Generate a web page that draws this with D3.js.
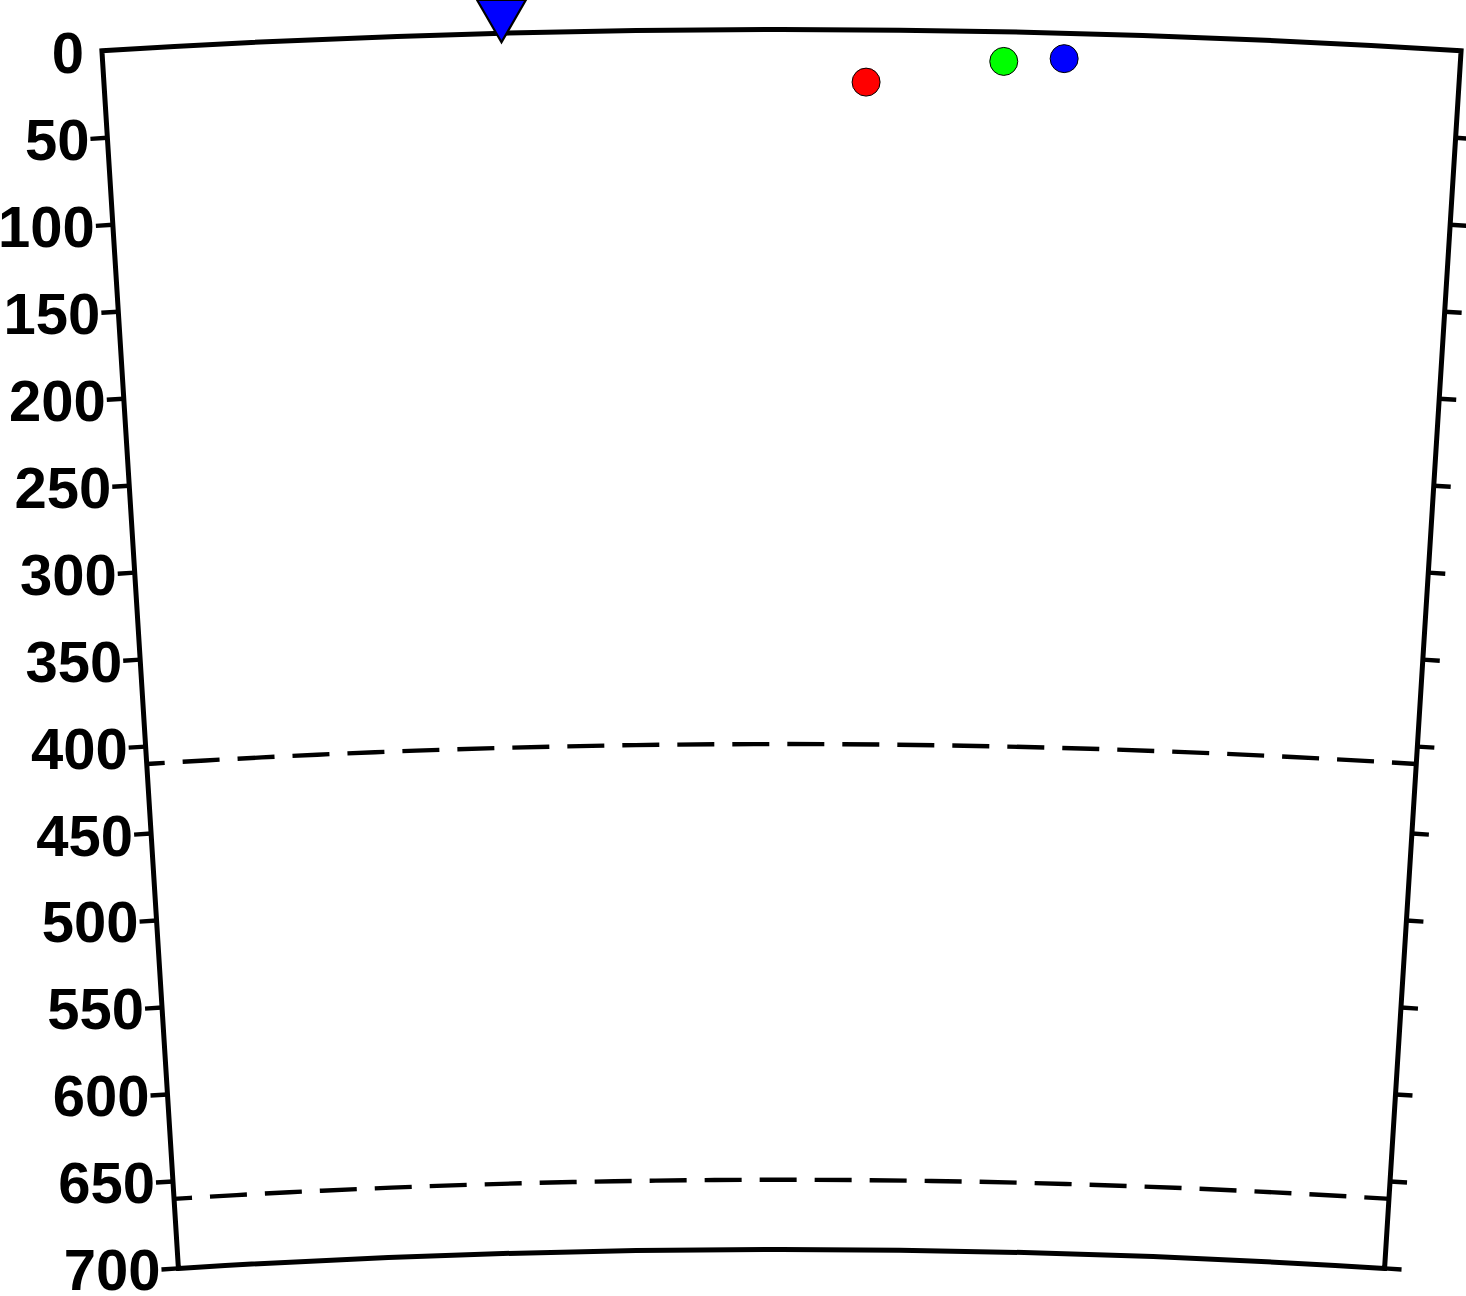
<!DOCTYPE html>
<html>
<head>
<meta charset="utf-8">
<script src="https://cdn.jsdelivr.net/npm/d3@7"></script>
<style>
  html, body { margin: 0; padding: 0; background: #fff; }
  svg { display: block; }
</style>
</head>
<body>
<svg id="chart" width="1466" height="1296"></svg>
<script>
// ---------------- data ----------------
const depthTicks = [0, 50, 100, 150, 200, 250, 300, 350, 400, 450, 500, 550, 600, 650, 700];
const depthDomain = [0, 700];
const distanceDomain = [0, 7.2];           // great-circle distance, degrees
const discontinuities = [410, 660];        // km, dashed arcs

const stationNames = ["STA"];
const stationDistance = [2.12];
const stationDepth = [-11];

const eventNames = ["EV1", "EV2", "EV3"];
const eventDistance = [4.05, 4.78, 5.10];
const eventDepth = [30, 17, 14.6];

// ---------------- styles ----------------
const eventColors = ["#ff0000", "#00ff00", "#0000ff"];
const stationColor = "#0000ff";

// ---------------- layout ----------------
const W = 1466, H = 1296;
const cx = 781.5, cy = 10867.5;
const R0 = 10838, R1 = R0 - 1220;
const halfAngle = 3.595 * Math.PI / 180;

const svg = d3.select("#chart");
svg.append("rect").attr("width", W).attr("height", H).attr("fill", "#fff");

const rScale = d3.scaleLinear().domain(depthDomain).range([R0, R1]);
const aScale = d3.scaleLinear().domain(distanceDomain).range([-halfAngle, halfAngle]);

// theta measured clockwise from 12 o'clock
const px = (dist, depth) => {
  const t = aScale(dist), r = rScale(depth);
  return [cx + r * Math.sin(t), cy - r * Math.cos(t)];
};

const g = svg.append("g");

// frame (annular sector)
const frameArc = d3.arc()
  .innerRadius(rScale(depthDomain[1]))
  .outerRadius(rScale(depthDomain[0]))
  .startAngle(aScale(distanceDomain[0]))
  .endAngle(aScale(distanceDomain[1]));

// discontinuity dashed arcs (drawn left to right)
discontinuities.forEach(d => {
  const p = d3.path();
  const r = rScale(d);
  p.arc(cx, cy, r, -Math.PI / 2 + aScale(distanceDomain[0]), -Math.PI / 2 + aScale(distanceDomain[1]));
  g.append("path")
    .attr("d", p.toString())
    .attr("fill", "none")
    .attr("stroke", "#000")
    .attr("stroke-width", 4.4)
    .attr("stroke-dasharray", "37 18")
    .attr("stroke-dashoffset", 19);
});

g.append("path")
  .attr("transform", `translate(${cx},${cy})`)
  .attr("d", frameArc())
  .attr("fill", "none")
  .attr("stroke", "#000")
  .attr("stroke-width", 5)
  .attr("stroke-linejoin", "miter");

// ticks on both radial edges (tangential, pointing outward)
const tickLen = 17;
const tickDepths = depthTicks.filter(d => d !== depthDomain[0]);
const sides = [
  { dist: distanceDomain[0], sign: -1 },
  { dist: distanceDomain[1], sign: 1 }
];
sides.forEach(s => {
  const t = aScale(s.dist);
  const dx = s.sign * Math.cos(t), dy = s.sign * Math.sin(t);
  g.selectAll(null).data(tickDepths).enter().append("line")
    .attr("x1", d => px(s.dist, d)[0])
    .attr("y1", d => px(s.dist, d)[1])
    .attr("x2", d => px(s.dist, d)[0] + dx * tickLen)
    .attr("y2", d => px(s.dist, d)[1] + dy * tickLen)
    .attr("stroke", "#000")
    .attr("stroke-width", 4.4);
});

// depth labels on the left
{
  const t = aScale(distanceDomain[0]);
  const dx = -Math.cos(t), dy = -Math.sin(t);
  g.selectAll(null).data(depthTicks).enter().append("text")
    .attr("x", d => px(distanceDomain[0], d)[0] + dx * tickLen - 1)
    .attr("y", d => px(distanceDomain[0], d)[1] + dy * tickLen)
    .attr("dy", "0.36em")
    .attr("text-anchor", "end")
    .attr("font-family", "'Liberation Sans', Arial, Helvetica, sans-serif")
    .attr("font-weight", "bold")
    .attr("font-size", 58)
    .attr("fill", "#000")
    .text(d => d);
}

// events
g.selectAll(null).data(eventNames).enter().append("circle")
  .attr("cx", (d, i) => px(eventDistance[i], eventDepth[i])[0])
  .attr("cy", (d, i) => px(eventDistance[i], eventDepth[i])[1])
  .attr("r", 14)
  .attr("fill", (d, i) => eventColors[i])
  .attr("stroke", "#000")
  .attr("stroke-width", 1);

// station (inverted triangle)
const tri = d3.symbol().type(d3.symbolTriangle).size(1040);
g.selectAll(null).data(stationNames).enter().append("path")
  .attr("d", tri())
  .attr("transform", (d, i) => {
    const [x, y] = px(stationDistance[i], stationDepth[i]);
    return `translate(${x},${y}) rotate(180)`;
  })
  .attr("fill", stationColor)
  .attr("stroke", "#000")
  .attr("stroke-width", 2.2);
</script>
</body>
</html>
